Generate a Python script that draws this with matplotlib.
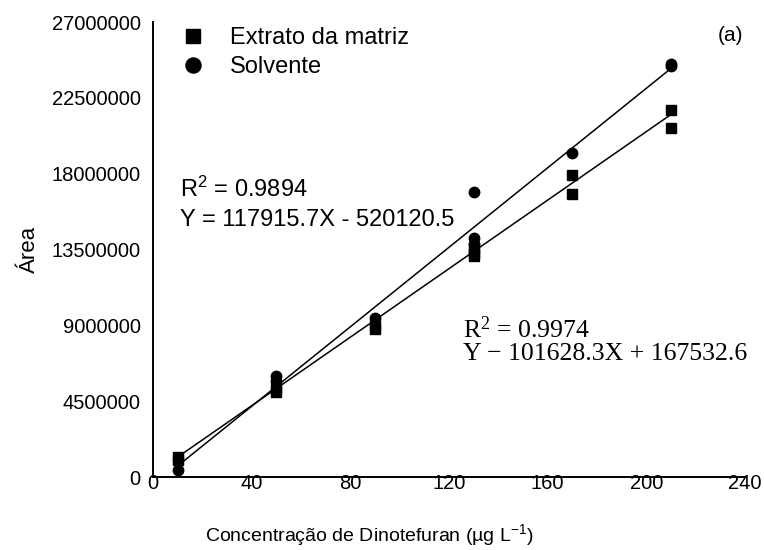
import matplotlib
matplotlib.use("Agg")
import matplotlib.pyplot as plt
import numpy as np

plt.rcParams["font.family"] = ["Liberation Sans", "DejaVu Sans"]
plt.rcParams["mathtext.default"] = "regular"

# Curvas analíticas: extrato da matriz e solvente
conc_matriz = [10, 10, 50, 50, 90, 90, 130, 130, 130, 170, 170, 210, 210]
area_matriz = [1.2e6, 1.0e6, 5.3e6, 5.05e6, 9.0e6, 8.8e6,
               13.6e6, 13.3e6, 13.1e6, 17.9e6, 16.8e6, 21.8e6, 20.7e6]
conc_solvente = [10, 50, 50, 90, 130, 130, 130, 170, 210, 210]
area_solvente = [0.42e6, 6.0e6, 5.7e6, 9.45e6, 16.9e6, 14.2e6, 13.8e6,
                 19.2e6, 24.5e6, 24.4e6]

# Coeficientes das regressões (inclinação, intercepto)
fit_matriz = (101628.3, 167532.6)
fit_solvente = (117915.7, -520120.5)
r2_matriz = 0.9974
r2_solvente = 0.9894

x_ticks = [0, 40, 80, 120, 160, 200, 240]
y_ticks = [0, 4500000, 9000000, 13500000, 18000000, 22500000, 27000000]

figure = plt.figure(figsize=(7.64, 5.5), dpi=100)
ax = figure.add_axes([0.2003, 0.1327, 0.7747, 0.8273])

x_fit = np.array([10, 210])
ax.plot(x_fit, fit_solvente[0] * x_fit + fit_solvente[1],
        color="black", linewidth=1.1, zorder=1)
ax.plot(x_fit, fit_matriz[0] * x_fit + fit_matriz[1],
        color="black", linewidth=1.1, zorder=1)

ax.plot(conc_matriz, area_matriz, linestyle="none", marker="s",
        markersize=7, color="black", label="Extrato da matriz", zorder=2)
ax.plot(conc_solvente, area_solvente, linestyle="none", marker="o",
        markersize=7.5, color="black", label="Solvente", zorder=2)

ax.set_xlim(0, 240)
ax.set_ylim(0, 27000000)
ax.set_xticks(x_ticks)
ax.set_yticks(y_ticks)
ax.set_yticklabels([str(v) for v in y_ticks])

for side in ("top", "right"):
    ax.spines[side].set_visible(False)
for side in ("left", "bottom"):
    ax.spines[side].set_linewidth(1.4)
ax.tick_params(axis="both", length=0, labelsize=14.5)
ax.tick_params(axis="x", pad=-2)
ax.tick_params(axis="y", pad=9)

ax.set_xlabel("Concentração de Dinotefuran (µg L$^{-1}$)", fontsize=14,
              labelpad=16)
ax.xaxis.set_label_coords(0.365, -0.1)
ax.set_ylabel("Área", fontsize=16, labelpad=8)

ax.legend(loc="upper left", bbox_to_anchor=(0.006, 1.035), frameon=False,
          fontsize=17, handletextpad=0.9, labelspacing=0.3,
          handlelength=1.3, markerscale=1.45)

ax.text(0.975, 0.971, "(a)", transform=ax.transAxes, fontsize=15,
        ha="center", va="center")

ax.text(0.045, 0.60,
        f"R$^2$ = {r2_solvente}\nY = {fit_solvente[0]}X - "
        f"{abs(fit_solvente[1])}",
        transform=ax.transAxes, fontsize=17, ha="left", va="center",
        linespacing=1.4)

ax.text(0.524, 0.30,
        f"R$^2$ = {r2_matriz}\nY \u2212 {fit_matriz[0]}X + {fit_matriz[1]}",
        transform=ax.transAxes, fontsize=18.5, ha="left", va="center",
        family=["Liberation Serif", "DejaVu Serif"], linespacing=1.0)

figure.savefig("out.png", dpi=100)
